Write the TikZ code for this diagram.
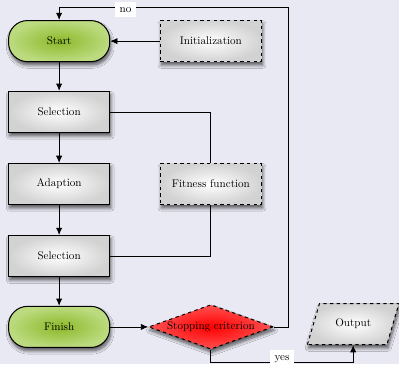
\documentclass[tikz,border=0pt]{standalone}
\usetikzlibrary{shapes.geometric,shadows.blur,arrows.meta}
\definecolor{bgcolor}{RGB}{233,233,243}
\definecolor{termdark}{RGB}{140,185,40}
\definecolor{termlight}{RGB}{188,219,128}
\begin{document}
\begin{tikzpicture}[
  base/.style={draw, line width=0.9pt, minimum width=3.2cm, minimum height=1.3cm,
    blur shadow={shadow blur steps=8, shadow xshift=1pt, shadow yshift=-3pt,
      shadow blur radius=3pt, shadow opacity=65}},
  process/.style={base, rectangle, inner color=white, outer color=gray!35},
  extern/.style={process, dashed},
  terminal/.style={base, rectangle, rounded corners=0.6cm, inner color=termdark, outer color=termlight},
  decision/.style={base, diamond, dashed, aspect=2.8, inner sep=1pt, minimum width=0cm, minimum height=0cm,
    inner color=red, outer color=red!68},
  io/.style={base, trapezium, dashed, trapezium left angle=66, trapezium right angle=114,
    trapezium stretches, minimum width=2.9cm, inner color=white, outer color=gray!35},
  line/.style={line width=0.75pt},
  arrow/.style={line, -{Latex[length=2.3mm,width=2mm]}},
  flag/.style={fill=white, inner xsep=4.5pt, inner ysep=3pt, text height=1.5ex, text depth=0.25ex}
]
\useasboundingbox (0,0) rectangle (12.62,-11.515);
\fill[bgcolor] (0,0) rectangle (12.62,-11.515);
\node[terminal] (start) at (1.87,-1.30) {Start};
\node[extern] (init) at (6.67,-1.30) {Initialization};
\node[process] (sel1) at (1.87,-3.54) {Selection};
\node[process] (adapt) at (1.87,-5.82) {Adaption};
\node[extern] (fit) at (6.67,-5.82) {Fitness function};
\node[process] (sel2) at (1.87,-8.10) {Selection};
\node[terminal] (finish) at (1.87,-10.34) {Finish};
\node[decision] (stop) at (6.67,-10.34) {Stopping criterion};
\node[io] (output) at (11.17,-10.25) {Output};
\coordinate (loop) at (9.11,-0.22);
\coordinate (down) at (6.67,-11.45);
\draw[arrow] (init) -- (start);
\draw[arrow] (start) -- (sel1);
\draw[arrow] (sel1) -- (adapt);
\draw[arrow] (adapt) -- (sel2);
\draw[arrow] (sel2) -- (finish);
\draw[arrow] (finish) -- (stop);
\draw[line] (sel1.east) -| (fit.north);
\draw[line] (fit.south) |- (sel2.east);
\draw[arrow] (stop.east) -| (loop) -- node[flag, pos=0.71, yshift=-2.5pt] {no} (start.north |- loop) -- (start.north);
\draw[arrow] (stop.south) |- node[flag, pos=0.75, yshift=4pt] {yes} (output.south |- down) -- (output.south);
\end{tikzpicture}
\end{document}
